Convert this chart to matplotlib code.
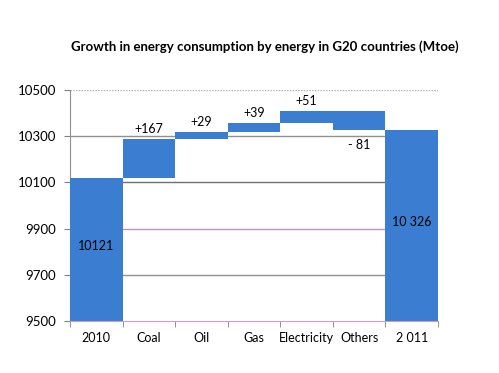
import matplotlib
matplotlib.use("Agg")
import matplotlib.pyplot as plt
import numpy as np

categories = ["2010", "Coal", "Oil", "Gas", "Electricity", "Others", "2 011"]
start_total = 10121
changes = [167, 29, 39, 51, -81]
end_total = 10326
change_labels = ["+167", "+29", "+39", "+51", "- 81"]
total_labels = ["10121", "10 326"]
yticks = [9500, 9700, 9900, 10100, 10300, 10500]

plt.rcParams["font.family"] = ["Lato", "DejaVu Sans"]
blue = "#3b7dd0"

# waterfall bottoms/heights
bottoms = [9500]
heights = [start_total - 9500]
level = start_total
for c in changes:
    bottoms.append(min(level, level + c))
    heights.append(abs(c))
    level += c
bottoms.append(9500)
heights.append(end_total - 9500)

fig = plt.figure(figsize=(4.99, 3.73), dpi=100)
ax = fig.add_axes([70 / 499, 1 - 321 / 373, 368 / 499, 231 / 373])

x = np.arange(len(categories))
ax.bar(x, heights, bottom=bottoms, width=1.0, color=blue, linewidth=0, zorder=3)

grid_colors = {10500: "#b0b0b0", 10300: "#909090", 10100: "#707070",
               9900: "#c090c0", 9700: "#909090"}
for v, col in grid_colors.items():
    ax.axhline(v, color=col, linewidth=1.0, zorder=1,
               linestyle=(0, (1, 1)) if v == 10500 else "-")

ax.set_xlim(-0.5, len(categories) - 0.5)
ax.set_ylim(9500, 10500)
ax.set_yticks(yticks)
ax.set_yticklabels([str(t) for t in yticks], fontsize=9.5)
ax.set_xticks(x)
ax.set_xticklabels(categories, fontsize=9)
ax.tick_params(axis="x", length=0, pad=8)
ax.set_xticks(np.arange(-0.5, len(categories)), minor=True)
ax.tick_params(axis="x", which="minor", length=4, color="#808080", direction="out")
ax.tick_params(axis="y", length=4, color="#808080", direction="out", pad=6)

for s in ["top", "right"]:
    ax.spines[s].set_visible(False)
ax.spines["left"].set_color("#909090")
ax.spines["bottom"].set_color("#c8a0c0")
ax.spines["bottom"].set_zorder(4)

# change labels
level = start_total
for i, (c, lab) in enumerate(zip(changes, change_labels)):
    xi = i + 1
    if c >= 0:
        ax.annotate(lab, (xi, level + c), xytext=(0, 3), textcoords="offset points",
                    ha="center", va="bottom", fontsize=9)
    else:
        ax.annotate(lab, (xi, level + c), xytext=(0, -6), textcoords="offset points",
                    ha="center", va="top", fontsize=9)
    level += c

ax.text(0, 9825, total_labels[0], ha="center", va="center", fontsize=9, zorder=5)
ax.text(6, 9930, total_labels[1], ha="center", va="center", fontsize=9, zorder=5)

fig.text(265 / 499, 1 - 47 / 373, "Growth in energy consumption by energy in G20 countries (Mtoe)",
         ha="center", va="center", fontsize=9.5, fontweight="bold")

fig.savefig("out.png", dpi=100)
